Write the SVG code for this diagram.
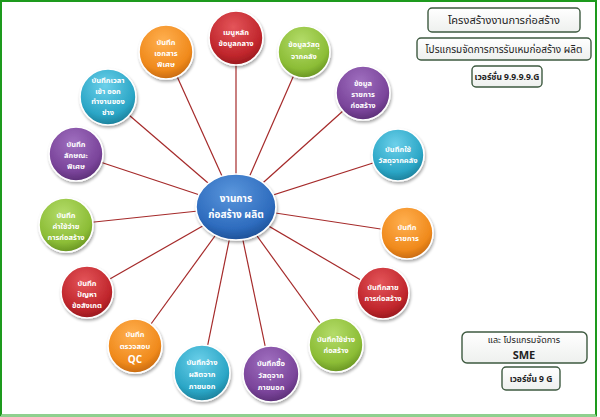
<svg xmlns="http://www.w3.org/2000/svg" width="600" height="417" viewBox="0 0 600 417">
<defs>
<radialGradient id="gRed" cx="0.45" cy="0.3" r="0.75"><stop offset="0" stop-color="#e4555a"/><stop offset="0.7" stop-color="#c0262c"/><stop offset="1" stop-color="#8e161b"/></radialGradient>
<radialGradient id="gGreen" cx="0.45" cy="0.3" r="0.75"><stop offset="0" stop-color="#b4dc6a"/><stop offset="0.7" stop-color="#8cbd36"/><stop offset="1" stop-color="#5f8a1e"/></radialGradient>
<radialGradient id="gPurple" cx="0.45" cy="0.3" r="0.75"><stop offset="0" stop-color="#a070c0"/><stop offset="0.7" stop-color="#7a449a"/><stop offset="1" stop-color="#542a6e"/></radialGradient>
<radialGradient id="gCyan" cx="0.45" cy="0.3" r="0.75"><stop offset="0" stop-color="#6cd0ea"/><stop offset="0.7" stop-color="#2ba6c6"/><stop offset="1" stop-color="#18768f"/></radialGradient>
<radialGradient id="gOrange" cx="0.45" cy="0.3" r="0.75"><stop offset="0" stop-color="#ffb050"/><stop offset="0.7" stop-color="#f08a1c"/><stop offset="1" stop-color="#bd620c"/></radialGradient>
<radialGradient id="gBlue" cx="0.45" cy="0.3" r="0.75"><stop offset="0" stop-color="#5a96dc"/><stop offset="0.7" stop-color="#2e6cbe"/><stop offset="1" stop-color="#1b4b8e"/></radialGradient>
<linearGradient id="gBox" x1="0" y1="0" x2="0" y2="1"><stop offset="0" stop-color="#ffffff"/><stop offset="1" stop-color="#eef0ee"/></linearGradient>
<filter id="sh" x="-30%" y="-30%" width="160%" height="160%"><feGaussianBlur in="SourceAlpha" stdDeviation="1.5"/><feOffset dx="1" dy="2"/><feComponentTransfer><feFuncA type="linear" slope="0.35"/></feComponentTransfer><feMerge><feMergeNode/><feMergeNode in="SourceGraphic"/></feMerge></filter>
</defs>
<style>
.ball{stroke:#ffffff;stroke-width:1.6;filter:url(#sh)}
.nt{font-family:"Noto Sans Thai","Tahoma","Noto Sans","DejaVu Sans",sans-serif;font-size:7.5px;font-weight:bold;fill:#ffffff;text-anchor:middle}
.con line{stroke:#a52a2a;stroke-width:1.2}
.box{fill:url(#gBox);stroke:#3e5a40;stroke-width:1.4}
.bt{font-family:"Noto Sans Thai","Tahoma","Noto Sans","DejaVu Sans",sans-serif;fill:#222222;text-anchor:middle}
</style>
<rect x="0" y="0" width="600" height="417" fill="#ffffff"/>
<rect x="1" y="1" width="595" height="414.5" fill="none" stroke="#1d9a1d" stroke-width="2"/>
<line x1="1" y1="415.5" x2="596" y2="415.5" stroke="#8fd28f" stroke-width="2"/>
<g id="connectors" class="con">
<line x1="236" y1="207" x2="236" y2="38"/>
<line x1="236" y1="207" x2="304" y2="52"/>
<line x1="236" y1="207" x2="363" y2="93"/>
<line x1="236" y1="207" x2="398" y2="155"/>
<line x1="236" y1="207" x2="407" y2="233"/>
<line x1="236" y1="207" x2="383" y2="293"/>
<line x1="236" y1="207" x2="336" y2="345"/>
<line x1="236" y1="207" x2="271" y2="374"/>
<line x1="236" y1="207" x2="202" y2="373"/>
<line x1="236" y1="207" x2="135" y2="346"/>
<line x1="236" y1="207" x2="87" y2="292"/>
<line x1="236" y1="207" x2="66" y2="225"/>
<line x1="236" y1="207" x2="76" y2="154"/>
<line x1="236" y1="207" x2="108" y2="97"/>
<line x1="236" y1="207" x2="166" y2="52"/>
</g>
<g id="n1"><circle class="ball" cx="236" cy="38" r="27" fill="url(#gRed)"/><text class="nt" x="236" y="35">เมนูหลัก</text><text class="nt" x="236" y="46">ข้อมูลกลาง</text></g>
<g id="n2"><circle class="ball" cx="304" cy="52" r="26" fill="url(#gGreen)"/><text class="nt" x="304" y="47">ข้อมูลวัสดุ</text><text class="nt" x="304" y="59">จากคลัง</text></g>
<g id="n3"><circle class="ball" cx="363" cy="93" r="27" fill="url(#gPurple)"/><text class="nt" x="363" y="86">ข้อมูล</text><text class="nt" x="363" y="97">รายการ</text><text class="nt" x="363" y="108">ก่อสร้าง</text></g>
<g id="n4"><circle class="ball" cx="398" cy="155" r="26" fill="url(#gCyan)"/><text class="nt" x="398" y="152">บันทึกใช้</text><text class="nt" x="398" y="163">วัสดุจากคลัง</text></g>
<g id="n5"><circle class="ball" cx="407" cy="233" r="26" fill="url(#gOrange)"/><text class="nt" x="407" y="230">บันทึก</text><text class="nt" x="407" y="241">รายการ</text></g>
<g id="n6"><circle class="ball" cx="383" cy="293" r="26" fill="url(#gRed)"/><text class="nt" x="383" y="290">บันทึกสาย</text><text class="nt" x="383" y="301">การก่อสร้าง</text></g>
<g id="n7"><circle class="ball" cx="336" cy="345" r="27" fill="url(#gGreen)"/><text class="nt" x="336" y="342">บันทึกใช้ช่าง</text><text class="nt" x="336" y="353">ก่อสร้าง</text></g>
<g id="n8"><circle class="ball" cx="271" cy="374" r="28" fill="url(#gPurple)"/><text class="nt" x="271" y="366">บันทึกซื้อ</text><text class="nt" x="271" y="378">วัสดุจาก</text><text class="nt" x="271" y="390">ภายนอก</text></g>
<g id="n9"><circle class="ball" cx="202" cy="373" r="28" fill="url(#gCyan)"/><text class="nt" x="202" y="365">บันทึกจ้าง</text><text class="nt" x="202" y="377">ผลิตจาก</text><text class="nt" x="202" y="389">ภายนอก</text></g>
<g id="n10"><circle class="ball" cx="135" cy="346" r="27" fill="url(#gOrange)"/><text class="nt" x="135" y="337">บันทึก</text><text class="nt" x="135" y="349">ตรวจสอบ</text><text class="nt" x="135" y="363" style="font-size:10px">QC</text></g>
<g id="n11"><circle class="ball" cx="87" cy="292" r="26" fill="url(#gRed)"/><text class="nt" x="87" y="286">บันทึก</text><text class="nt" x="87" y="297">ปัญหา</text><text class="nt" x="87" y="308">ข้อสังเกต</text></g>
<g id="n12"><circle class="ball" cx="66" cy="225" r="27" fill="url(#gGreen)"/><text class="nt" x="66" y="218">บันทึก</text><text class="nt" x="66" y="229">ค่าใช้จ่าย</text><text class="nt" x="66" y="240">การก่อสร้าง</text></g>
<g id="n13"><circle class="ball" cx="76" cy="154" r="27" fill="url(#gPurple)"/><text class="nt" x="76" y="147">บันทึก</text><text class="nt" x="76" y="158">ลักษณะ</text><text class="nt" x="76" y="169">พิเศษ</text></g>
<g id="n14"><circle class="ball" cx="108" cy="97" r="28" fill="url(#gCyan)"/><text class="nt" x="108" y="83">บันทึกเวลา</text><text class="nt" x="108" y="93.5">เข้า ออก</text><text class="nt" x="108" y="104">ทำงานของ</text><text class="nt" x="108" y="115">ช่าง</text></g>
<g id="n15"><circle class="ball" cx="166" cy="52" r="27" fill="url(#gOrange)"/><text class="nt" x="166" y="45">บันทึก</text><text class="nt" x="166" y="56">เอกสาร</text><text class="nt" x="166" y="67">พิเศษ</text></g>
<g id="center"><ellipse class="ball" cx="236" cy="207" rx="40" ry="33" fill="url(#gBlue)"/><text class="nt" x="236" y="202" style="font-size:10px">งานการ</text><text class="nt" x="236" y="218" style="font-size:10px">ก่อสร้าง ผลิต</text></g>
<g id="b1"><rect class="box" x="428" y="8" width="152" height="24" rx="4"/><text class="bt" x="504" y="24" style="font-size:11px">โครงสร้างงานการก่อสร้าง</text></g>
<g id="b2"><rect class="box" x="417" y="38" width="174" height="22" rx="4"/><text class="bt" x="504" y="53" style="font-size:10px">โปรแกรมจัดการการรับเหมก่อสร้าง ผลิต</text></g>
<g id="b3"><rect class="box" x="472" y="66" width="70" height="21" rx="4"/><text class="bt" x="507" y="80" style="font-size:8.5px;font-weight:bold">เวอร์ชั่น 9.9.9.9.G</text></g>
<g id="b4"><rect class="box" x="462" y="332" width="125" height="31" rx="5"/><text class="bt" x="524" y="343" style="font-size:9px">และ โปรแกรมจัดการ</text><text class="bt" x="524" y="359" style="font-size:11px;font-weight:bold">SME</text></g>
<g id="b5"><rect class="box" x="502" y="367" width="58" height="23" rx="4"/><text class="bt" x="531" y="382" style="font-size:8.5px;font-weight:bold">เวอร์ชั่น 9 G</text></g>
</svg>
